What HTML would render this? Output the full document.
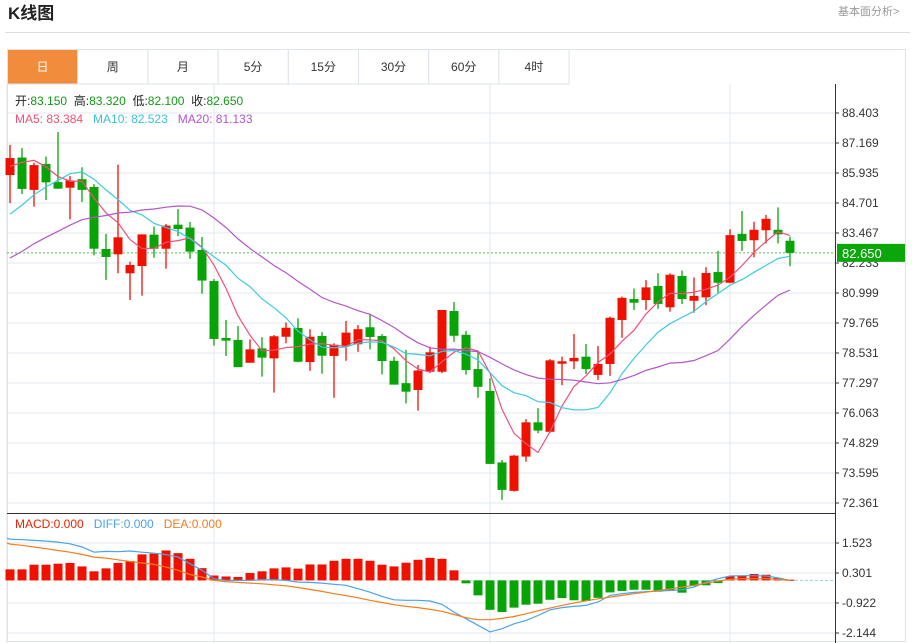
<!DOCTYPE html>
<html><head><meta charset="utf-8"><style>
body{margin:0;background:#fff;width:912px;height:643px;overflow:hidden;font-family:"Liberation Sans","Noto Sans CJK SC",sans-serif}
svg{position:absolute;left:0;top:0}
</style></head><body>
<svg id="chart" width="912" height="643" xmlns="http://www.w3.org/2000/svg" font-family="Liberation Sans, Noto Sans CJK SC, sans-serif">
<text x="8" y="19" font-size="17" font-weight="bold" fill="#222">K线图</text>
<text x="838" y="15" font-size="11" fill="#999">基本面分析&gt;</text>
<line x1="5" y1="32.5" x2="910" y2="32.5" stroke="#ddd"/>
<rect x="7.5" y="49.5" width="898" height="592" fill="none" stroke="#dde3ea"/>
<g id="tabs"></g>
<g id="grid"></g><g id="marks"></g><g id="labels"></g>
</svg>
<script>
const NS="http://www.w3.org/2000/svg";
const priorCloses=[79.8,80.0,80.2,80.4,80.6,80.7,80.9,81.0,81.2,81.5,81.6,82.0,82.3,82.6,82.9,84.5,85.8,86.9,87.3];
const opens=[85.85,86.57,85.24,86.31,85.56,85.33,85.68,85.36,82.81,82.59,81.81,82.11,83.40,82.82,83.81,83.69,82.77,81.49,79.15,79.07,78.13,78.72,78.31,79.20,79.56,78.16,79.23,78.41,78.82,78.89,79.59,79.23,78.21,77.29,77.01,77.76,77.76,80.26,79.28,77.87,76.97,74.03,72.86,74.27,75.68,75.29,78.09,78.19,78.38,77.63,78.08,79.89,80.75,80.71,81.29,80.41,81.70,80.68,80.82,81.86,81.42,83.43,83.17,83.58,83.60,83.15];
const closes=[86.55,85.28,86.26,85.55,85.29,85.63,85.24,82.82,82.48,83.29,82.15,83.41,82.82,83.77,83.63,82.70,81.51,79.11,79.04,77.95,78.68,78.34,79.22,79.57,78.17,79.20,78.42,78.87,79.37,79.51,79.19,78.20,77.23,76.94,77.81,78.56,80.30,79.24,77.83,77.14,73.97,72.90,74.31,75.68,75.34,78.23,78.19,78.33,77.87,78.08,79.98,80.80,80.60,81.23,80.55,81.75,80.75,80.88,81.82,81.42,83.38,83.14,83.60,84.05,83.41,82.65];
const highs=[87.09,86.96,86.36,86.61,87.62,85.81,86.17,85.48,83.43,86.28,82.29,83.41,83.73,83.84,84.45,83.92,83.30,81.57,79.89,79.64,79.09,79.18,79.27,79.79,79.96,79.51,79.39,78.93,79.85,79.68,80.15,79.31,78.38,78.66,78.04,78.79,80.30,80.63,79.44,78.58,77.49,74.13,74.34,75.81,76.26,78.28,78.38,79.31,78.90,78.82,80.03,80.85,81.18,81.53,81.81,81.81,81.92,81.64,82.06,82.73,83.62,84.37,83.93,84.21,84.52,83.32];
const lows=[84.70,85.07,84.55,84.82,85.29,84.03,84.74,82.55,81.54,81.81,80.71,80.89,82.45,82.00,83.34,82.41,80.97,78.83,78.41,77.95,78.13,77.56,76.90,78.93,78.15,77.80,77.68,76.69,78.21,78.58,78.68,77.65,77.23,76.46,76.16,77.70,77.70,78.99,77.64,76.69,73.97,72.49,72.83,74.06,75.23,75.25,77.21,77.87,77.67,77.42,77.59,79.16,80.30,80.30,80.35,80.23,80.55,80.19,80.50,81.01,81.40,82.73,82.47,83.04,83.04,82.10];
const macdBars=[0.45,0.45,0.64,0.64,0.68,0.71,0.57,0.37,0.49,0.71,0.79,1.06,1.09,1.22,1.11,0.88,0.50,0.20,0.16,0.14,0.30,0.37,0.49,0.53,0.48,0.65,0.65,0.80,0.88,0.88,0.80,0.64,0.57,0.72,0.84,0.92,0.88,0.41,-0.12,-0.61,-1.20,-1.29,-1.11,-0.99,-0.95,-0.79,-0.72,-0.81,-0.84,-0.71,-0.49,-0.43,-0.38,-0.38,-0.46,-0.43,-0.50,-0.23,-0.20,-0.11,0.16,0.20,0.26,0.23,0.10,0.03];
const diffLine=[1.68,1.66,1.63,1.60,1.56,1.49,1.36,1.15,1.18,1.17,1.20,1.15,1.11,1.05,0.95,0.68,0.41,0.07,0,0,0,0.03,0.03,0,-0.07,-0.08,-0.11,-0.16,-0.20,-0.34,-0.48,-0.65,-0.79,-0.81,-0.81,-0.84,-0.98,-1.29,-1.56,-1.83,-2.10,-1.97,-1.77,-1.63,-1.43,-1.20,-1.11,-1.06,-1.02,-0.88,-0.61,-0.54,-0.49,-0.46,-0.43,-0.41,-0.38,-0.27,-0.07,0.07,0.18,0.19,0.19,0.18,0.10,0];
const deaLine=[1.48,1.43,1.36,1.29,1.22,1.15,1.06,0.95,0.91,0.84,0.77,0.71,0.65,0.54,0.41,0.24,0.14,0,-0.05,-0.08,-0.11,-0.14,-0.18,-0.22,-0.29,-0.37,-0.45,-0.54,-0.62,-0.71,-0.81,-0.90,-0.99,-1.06,-1.11,-1.18,-1.26,-1.39,-1.52,-1.60,-1.60,-1.55,-1.47,-1.36,-1.24,-1.13,-1.02,-0.92,-0.83,-0.75,-0.68,-0.61,-0.54,-0.48,-0.41,-0.35,-0.27,-0.20,-0.11,-0.03,0.04,0.07,0.07,0.07,0.04,0];
const priceTicks=[88.403,87.169,85.935,84.701,83.467,82.233,80.999,79.765,78.531,77.297,76.063,74.829,73.595,72.361];
const macdTicks=[1.523,0.301,-0.922,-2.144];
const tabLabels=["日","周","月","5分","15分","30分","60分","4时"];
const lastPrice=82.650;

const RED="#ee1100",GREEN="#07a307";
const xOf=i=>10+12*i;
const yP=p=>113+(88.403-p)/1.234*30;
const yM=v=>580.4-v*24.54;
function mk(tag,attrs,parent,text){const e=document.createElementNS(NS,tag);for(const k in attrs)e.setAttribute(k,attrs[k]);if(text!==undefined)e.textContent=text;parent.appendChild(e);return e;}
const tabs=document.getElementById('tabs'),grid=document.getElementById('grid'),marks=document.getElementById('marks'),labels=document.getElementById('labels');

tabLabels.forEach((t,i)=>{
  const x=7.5+70.2*i;
  const r=mk('rect',{x:x,y:49.5,width:70.2,height:34.5,fill:i===0?'#f08c3c':'#fff',stroke:'#dde3ea'},tabs);
  
  
  const tx=mk('text',{x:x+35,y:71,'font-size':12,'text-anchor':'middle',fill:i===0?'#fff':'#333'},tabs,t);
  
  
});

// grid
priceTicks.forEach(p=>{const y=yP(p);
  const l=mk('line',{x1:7,x2:835,y1:y,y2:y,stroke:'#e3e9ef'},grid);
  
  
  mk('line',{x1:835,x2:839,y1:y,y2:y,stroke:'#333'},grid);
  const t=mk('text',{x:842,y:y+4,'font-size':12,fill:'#333'},labels,p.toFixed(3));
  
  
});
macdTicks.forEach(v=>{const y=yM(v);
  const l=mk('line',{x1:7,x2:835,y1:y,y2:y,stroke:'#e3e9ef'},grid);
  
  
  mk('line',{x1:835,x2:839,y1:y,y2:y,stroke:'#333'},grid);
  const t=mk('text',{x:842,y:y+4,'font-size':12,fill:'#333'},labels,v.toFixed(3));
  
  
});
[214,490,730].forEach(x=>{mk('line',{x1:x,x2:x,y1:84,y2:643,stroke:'#e3e9ef'},grid);});
mk('line',{x1:7,x2:7,y1:84,y2:643,stroke:'#dde3ea'},grid);
mk('line',{x1:835.5,x2:835.5,y1:84,y2:643,stroke:'#333'},grid);
mk('line',{x1:7,x2:835,y1:513.5,y2:513.5,stroke:'#333'},grid);

// last price dashed line
mk('line',{x1:7,x2:835,y1:yP(lastPrice),y2:yP(lastPrice),stroke:'#5cbf5c','stroke-dasharray':'2,2'},marks);

// candles
closes.forEach((c,i)=>{
  const o=opens[i],up=c>=o,col=up?RED:GREEN,x=xOf(i);
  const g=mk('g',{},marks);
  
  
  mk('line',{x1:x,x2:x,y1:yP(highs[i]),y2:yP(lows[i]),stroke:col,'stroke-width':1.3},g);
  const t=yP(Math.max(o,c)),b=yP(Math.min(o,c));
  mk('rect',{x:x-4.5,y:t,width:9,height:Math.max(1,b-t),fill:col},g);
});

// moving averages
const all=priorCloses.concat(closes),off=priorCloses.length;
function ma(n){return closes.map((_,i)=>{let s=0;for(let k=0;k<n;k++)s+=all[off+i-k];return s/n;});}
[[5,'#f0507a','ma5-line'],[10,'#3ccbe0','ma10-line'],[20,'#b456c8','ma20-line']].forEach(([n,col,name])=>{
  const v=ma(n);
  const pl=mk('polyline',{points:v.map((p,i)=>xOf(i)+','+yP(p).toFixed(1)).join(' '),fill:'none',stroke:col,'stroke-width':1.2},marks);
  
  
});

// MACD
mk('line',{x1:xOf(65),x2:835,y1:yM(0),y2:yM(0),stroke:'#8fd0f0','stroke-dasharray':'3,2'},marks);
mk('line',{x1:7,x2:xOf(65),y1:yM(0),y2:yM(0),stroke:'#ddd','stroke-dasharray':'2,2'},marks);
macdBars.forEach((v,i)=>{
  const y0=yM(0),y1=yM(v);
  const r=mk('rect',{x:xOf(i)-4.5,y:Math.min(y0,y1),width:9,height:Math.max(1,Math.abs(y1-y0)),fill:v>=0?RED:GREEN},marks);
  
  
});
[[diffLine,'#4aa3ea','diff-line'],[deaLine,'#f57d1e','dea-line']].forEach(([arr,col,name])=>{
  const pl=mk('polyline',{points:arr.map((v,i)=>xOf(i)+','+yM(v).toFixed(1)).join(' '),fill:'none',stroke:col,'stroke-width':1.2},marks);
  
  
});
// leading segment to left edge
mk('line',{x1:7,y1:yM(diffLine[0])-1,x2:xOf(0),y2:yM(diffLine[0]),stroke:'#4aa3ea','stroke-width':1.2},marks);
mk('line',{x1:7,y1:yM(deaLine[0])-1,x2:xOf(0),y2:yM(deaLine[0]),stroke:'#f57d1e','stroke-width':1.2},marks);

// last price label
const lp=mk('rect',{x:837,y:yP(lastPrice)-9,width:68,height:18,fill:'#0aa60a'},labels);


mk('text',{x:842,y:yP(lastPrice)+5,'font-size':13,fill:'#fff'},labels,lastPrice.toFixed(3));

// info texts
function info(y,parts,name){const t=mk('text',{x:15,y:y,'font-size':12},labels);
  
  
  parts.forEach(([s,c])=>{mk('tspan',{fill:c},t,s);});}
info(105,[["开:","#222"],["83.150  ","#119911"],["高:","#222"],["83.320  ","#119911"],["低:","#222"],["82.100  ","#119911"],["收:","#222"],["82.650","#119911"]],'ohlc-info');
info(123,[["MA5: 83.384   ","#f0507a"],["MA10: 82.523   ","#3cc0dc"],["MA20: 81.133","#b456c8"]],'ma-legend');
info(528,[["MACD:0.000   ","#ee2200"],["DIFF:0.000   ","#4aa3ea"],["DEA:0.000","#f57d1e"]],'macd-legend');
document.querySelectorAll('#labels text').forEach(t=>t.setAttribute('xml:space','preserve'));
</script>
<style>#labels text{white-space:pre}</style>
</body></html>
